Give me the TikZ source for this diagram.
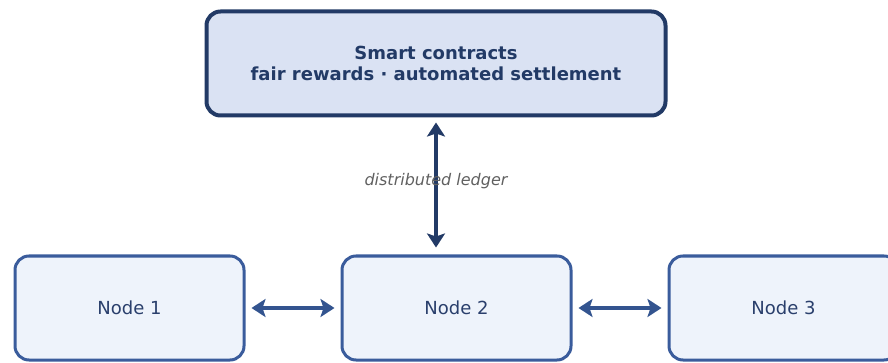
\documentclass[tikz,border=0pt]{standalone}
\usepackage{fontspec}
\setmainfont{DejaVu Sans}
\usetikzlibrary{arrows.meta}
\definecolor{navy}{HTML}{223A66}
\definecolor{topfill}{HTML}{DAE2F3}
\definecolor{nodeblue}{HTML}{3A5C9C}
\definecolor{nodefill}{HTML}{EEF3FB}
\definecolor{nodetext}{HTML}{2A3F6C}
\definecolor{arrowblue}{HTML}{33548F}
\definecolor{labelgray}{HTML}{606060}
\tikzset{
  topbox/.style={draw=navy, line width=4pt, fill=topfill, rounded corners=14pt,
    minimum width=459pt, minimum height=104pt, align=center, text=navy,
    font=\fontsize{18}{21}\selectfont\bfseries, inner sep=0pt},
  peerbox/.style={draw=nodeblue, line width=3pt, fill=nodefill, rounded corners=14pt,
    minimum width=229pt, minimum height=104pt, text=nodetext,
    font=\fontsize{18}{21}\selectfont, inner sep=0pt},
  link/.style={line width=4pt, {Stealth[length=14pt,width=18pt,inset=3pt]}-{Stealth[length=14pt,width=18pt,inset=3pt]}},
  lbl/.style={text=labelgray, font=\fontsize{16}{19}\selectfont\itshape}
}
\begin{document}
\begin{tikzpicture}[x=1pt,y=-1pt]
\useasboundingbox (0,0) rectangle (888,363);
\node[topbox] (sc) at (436,63.5) {Smart contracts\\fair rewards · automated settlement};
\node[peerbox] (n1) at (129.5,308) {Node 1};
\node[peerbox] (n2) at (456.5,308) {Node 2};
\node[peerbox] (n3) at (783.5,308) {Node 3};
\coordinate (ledgerend) at (sc.south |- n2.north);
\draw[link, navy, shorten <=5pt, shorten >=7pt] (sc.south) -- (ledgerend);
\node[lbl] (ledger) at (436,181) {distributed ledger};
\draw[link, arrowblue, shorten <=6pt, shorten >=6pt] (n1.east) -- (n2.west);
\draw[link, arrowblue, shorten <=6pt, shorten >=6pt] (n2.east) -- (n3.west);
\end{tikzpicture}
\end{document}
